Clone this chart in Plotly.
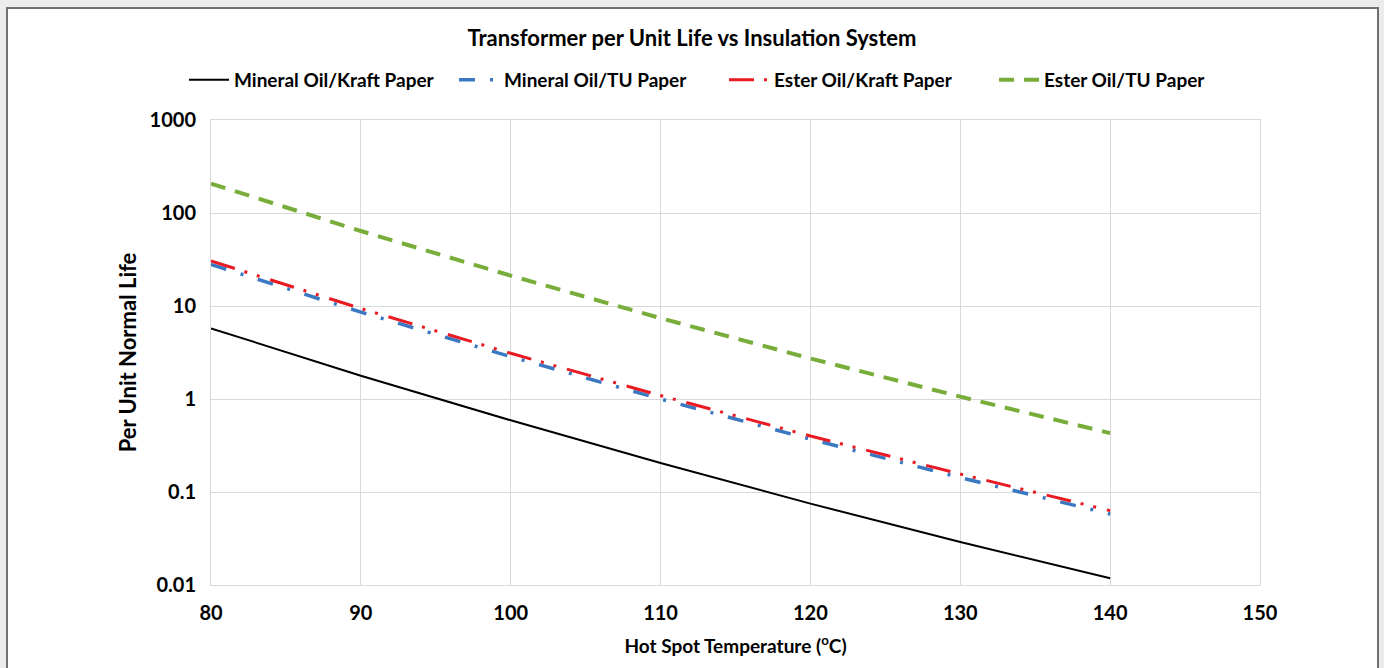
import plotly.graph_objects as go

temps = [80, 90, 100, 110, 120, 130, 140]
mineral_kraft = [5.75, 1.78, 0.59, 0.205, 0.075, 0.029, 0.0118]
mineral_tu = [28.0, 8.6, 2.85, 1.0, 0.37, 0.143, 0.058]
ester_kraft = [30.5, 9.4, 3.1, 1.09, 0.40, 0.156, 0.063]
ester_tu = [207, 64, 21.2, 7.4, 2.73, 1.06, 0.43]

series_names = ["Mineral Oil/Kraft Paper", "Mineral Oil/TU Paper",
                "Ester Oil/Kraft Paper", "Ester Oil/TU Paper"]
x_ticks = [80, 90, 100, 110, 120, 130, 140, 150]
y_ticks = [0.01, 0.1, 1, 10, 100, 1000]
y_tick_labels = ["0.01", "0.1", "1", "10", "100", "1000"]

FONT = "Lato"

fig = go.Figure()
fig.add_trace(go.Scatter(x=temps, y=mineral_kraft, mode="lines", name=series_names[0],
                         line=dict(color="#000000", width=2)))
fig.add_trace(go.Scatter(x=temps, y=mineral_tu, mode="lines", name=series_names[1],
                         line=dict(color="#3a78c2", width=3.5, dash="16px,15px,3px,15px")))
fig.add_trace(go.Scatter(x=temps, y=ester_kraft, mode="lines", name=series_names[2],
                         line=dict(color="#ea1a22", width=3, dash="25px,10px,3px,10px,3px,11px")))
fig.add_trace(go.Scatter(x=temps, y=ester_tu, mode="lines", name=series_names[3],
                         line=dict(color="#78ad3a", width=4, dash="15px,10px")))

# chart box (white card on grey page)
fig.add_shape(type="rect", xref="paper", yref="paper",
              x0=(7 - 211) / 1049, x1=(1378 - 211) / 1049,
              y0=(585 - 690) / 465, y1=(585 - 8) / 465,
              fillcolor="white", line=dict(color="#707070", width=2), layer="below")

fig.update_layout(
    width=1384, height=668,
    margin=dict(l=211, r=124, t=120, b=83, autoexpand=False),
    paper_bgcolor="#ececec",
    plot_bgcolor="white",
    font=dict(family=FONT, size=19, color="#000000", weight="bold"),
    title=dict(text="Transformer per Unit Life vs Insulation System",
               x=0.5, xref="container", y=1 - 38 / 668, yref="container",
               xanchor="center", yanchor="middle",
               font=dict(family=FONT, size=22, color="#000000", weight="bold")),
    legend=dict(orientation="h", x=(184 - 211) / 1049, xref="paper", xanchor="left",
                y=(585 - 80) / 465, yref="paper", yanchor="middle",
                font=dict(family=FONT, size=19, color="#000000", weight="bold"),
                bgcolor="rgba(0,0,0,0)", itemwidth=40, entrywidth=215),
    showlegend=True,
)
fig.update_xaxes(range=[80, 150], tickvals=x_ticks, showgrid=True, gridcolor="#d9d9d9",
                 gridwidth=1, showline=True, linecolor="#d9d9d9", mirror=True,
                 zeroline=False, ticks="", ticklabelstandoff=10,
                 tickfont=dict(family=FONT, size=20, weight="bold"),
                 title=dict(text="Hot Spot Temperature (<sup>o</sup>C)", standoff=16,
                            font=dict(family=FONT, size=19, weight="bold")))
fig.update_yaxes(type="log", range=[-2, 3], tickvals=y_ticks, ticktext=y_tick_labels,
                 showgrid=True, gridcolor="#d9d9d9", gridwidth=1, showline=True,
                 linecolor="#d9d9d9", mirror=True, zeroline=False, ticks="",
                 ticklabelstandoff=10,
                 tickfont=dict(family=FONT, size=20, weight="bold"),
                 title=dict(text="Per Unit Normal Life", standoff=6,
                            font=dict(family=FONT, size=22, weight="bold")))

fig.write_html("out.html")
